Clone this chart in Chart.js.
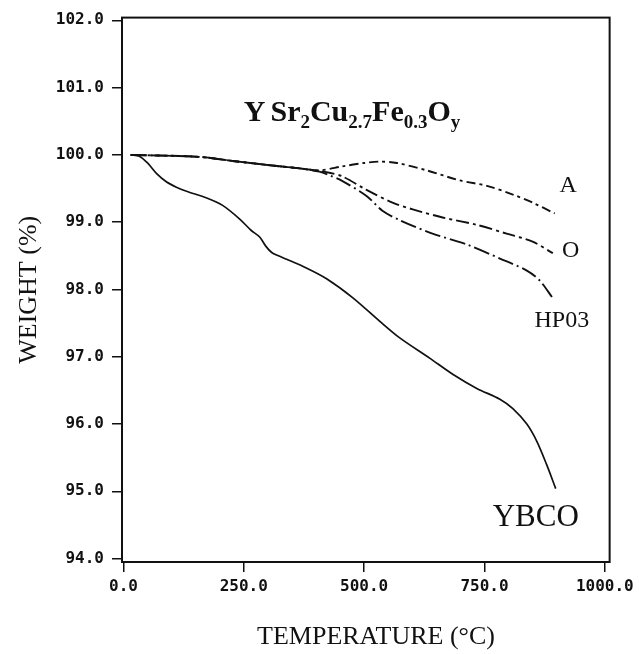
<!DOCTYPE html>
<html>
<head>
<meta charset="utf-8">
<script src="https://cdn.jsdelivr.net/npm/chart.js@4.4.1/dist/chart.umd.min.js"></script>
<style>
  html, body { margin: 0; padding: 0; background: #fff; }
  canvas { display: block; }
</style>
</head>
<body>
<canvas id="tga" width="639" height="654"></canvas>
<script>
// values: temperature (°C) vs weight (%)
const ybcoT = [15, 33, 50, 69, 89, 110, 131, 173, 206, 241, 265, 283, 296, 308, 322, 339, 380, 422, 476, 532, 574, 636, 684, 734, 782, 809, 838, 859, 879, 898];
const ybcoW = [100.0, 99.98, 99.88, 99.72, 99.6, 99.52, 99.46, 99.36, 99.25, 99.05, 98.88, 98.78, 98.64, 98.55, 98.5, 98.45, 98.32, 98.16, 97.88, 97.53, 97.28, 96.98, 96.74, 96.53, 96.37, 96.23, 96.0, 95.74, 95.4, 95.04];

const aT = [15, 158, 227, 324, 366, 407, 455, 500, 532, 568, 630, 699, 755, 809, 850, 896];
const aW = [100.0, 99.97, 99.91, 99.83, 99.8, 99.77, 99.83, 99.88, 99.9, 99.88, 99.77, 99.62, 99.54, 99.41, 99.29, 99.13];

const oT = [15, 158, 227, 324, 366, 407, 430, 455, 505, 559, 601, 663, 734, 796, 850, 892];
const oW = [100.0, 99.97, 99.91, 99.83, 99.8, 99.76, 99.73, 99.68, 99.48, 99.29, 99.19, 99.07, 98.96, 98.83, 98.71, 98.54];

const hpT = [15, 158, 227, 324, 366, 407, 430, 455, 505, 538, 574, 642, 713, 782, 838, 865, 892];
const hpW = [100.0, 99.97, 99.91, 99.83, 99.8, 99.75, 99.69, 99.61, 99.39, 99.17, 99.03, 98.83, 98.67, 98.46, 98.28, 98.13, 97.87];

const xTicks = [0, 250, 500, 750, 1000];
const yTicks = [94, 95, 96, 97, 98, 99, 100, 101, 102];

const toPts = (t, w) => t.map((x, i) => ({ x: x, y: w[i] }));
const ink = '#111';

// frame, formula and curve labels
const annotate = {
  id: 'annotate',
  afterDraw(chart) {
    const { ctx, chartArea: a, scales: { x, y } } = chart;
    ctx.save();
    ctx.strokeStyle = ink;
    ctx.lineWidth = 2;
    ctx.strokeRect(a.left, a.top, a.right - a.left, a.bottom - a.top);

    ctx.fillStyle = ink;
    ctx.textBaseline = 'alphabetic';
    ctx.textAlign = 'left';
    // YSr2Cu2.7Fe0.3Oy
    const parts = [['Y', 0], ['Sr', 0], ['2', 1], ['Cu', 0], ['2.7', 1], ['Fe', 0], ['0.3', 1], ['O', 0], ['y', 1]];
    let px = x.getPixelForValue(250);
    const base = y.getPixelForValue(100.5);
    parts.forEach(([s, sub], i) => {
      ctx.font = sub ? 'bold 19px "Liberation Serif"' : 'bold 30px "Liberation Serif"';
      ctx.fillText(s, px, base + (sub ? 7 : 0));
      px += ctx.measureText(s).width + (i === 0 ? 5 : 0);
    });

    ctx.textBaseline = 'middle';
    const labels = [
      ['A', 906, 99.54, 24], ['O', 911, 98.57, 24],
      ['HP03', 854, 97.54, 24], ['YBCO', 767, 94.6, 31]
    ];
    labels.forEach(([s, t, w, size]) => {
      ctx.font = size + 'px "Liberation Serif"';
      ctx.fillText(s, x.getPixelForValue(t), y.getPixelForValue(w));
    });

    // axis titles
    ctx.font = '26px "Liberation Serif"';
    ctx.textAlign = 'center';
    ctx.fillText('TEMPERATURE (°C)', 376, 637);
    ctx.translate(29, (a.top + a.bottom) / 2);
    ctx.rotate(-Math.PI / 2);
    ctx.fillText('WEIGHT (%)', 0, 0);
    ctx.restore();
  }
};

const tickFont = { family: 'DejaVu Sans Mono', weight: 'bold', size: 16 };

new Chart(document.getElementById('tga'), {
  type: 'line',
  data: {
    datasets: [
      { label: 'YBCO', data: toPts(ybcoT, ybcoW), borderWidth: 1.7 },
      { label: 'A', data: toPts(aT, aW), borderWidth: 1.9, borderDash: [9, 4, 3, 4] },
      { label: 'O', data: toPts(oT, oW), borderWidth: 1.9, borderDash: [13, 4, 3, 4] },
      { label: 'HP03', data: toPts(hpT, hpW), borderWidth: 1.9, borderDash: [16, 4, 2, 4] }
    ]
  },
  options: {
    responsive: false,
    animation: false,
    layout: { padding: { top: 11, right: 29, left: 0, bottom: 0 } },
    elements: {
      line: { borderColor: ink, tension: 0.3, fill: false },
      point: { radius: 0 }
    },
    plugins: { legend: { display: false }, tooltip: { enabled: false } },
    scales: {
      x: {
        type: 'linear',
        min: -3,
        max: 1010,
        afterBuildTicks: s => { s.ticks = xTicks.map(v => ({ value: v })); },
        afterFit: s => { s.height = 92; },
        border: { display: false },
        grid: { drawOnChartArea: false, tickLength: 10, color: ink, lineWidth: 1.5 },
        ticks: { color: ink, font: tickFont, padding: 5, maxRotation: 0, autoSkip: false, callback: v => v.toFixed(1) }
      },
      y: {
        min: 93.95,
        max: 102.04,
        afterBuildTicks: s => { s.ticks = yTicks.map(v => ({ value: v })); },
        afterFit: s => { s.width = 122; },
        border: { display: false },
        grid: { drawOnChartArea: false, tickLength: 10, color: ink, lineWidth: 1.5 },
        ticks: { color: ink, font: tickFont, padding: 8, autoSkip: false, callback: v => v.toFixed(1) }
      }
    }
  },
  plugins: [annotate]
});
</script>
</body>
</html>
